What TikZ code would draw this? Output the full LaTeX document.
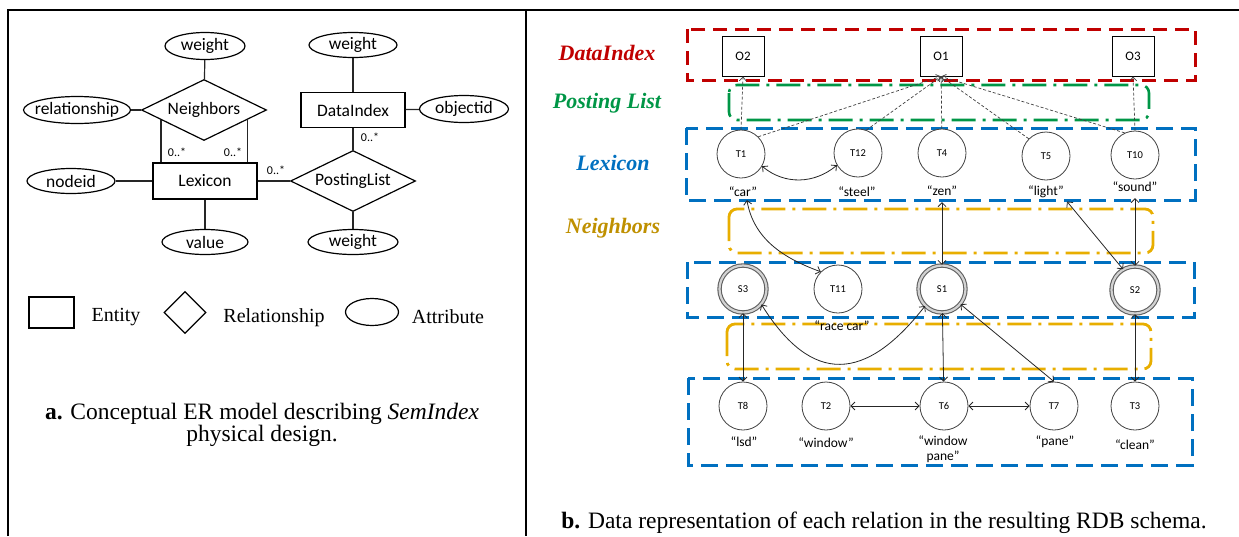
\documentclass[tikz,border=0pt]{standalone}
\usepackage{fontspec}
\setmainfont{Liberation Serif}
\newfontfamily\calibfont{Carlito}
\usetikzlibrary{shapes.geometric,arrows.meta,calc}

\definecolor{diRed}{RGB}{192,0,0}
\definecolor{plGreen}{RGB}{0,150,70}
\definecolor{lxBlue}{RGB}{0,112,192}
\definecolor{nbGold}{RGB}{232,174,0}
\definecolor{nbLabel}{RGB}{191,144,0}

\tikzset{
  erline/.style={line width=1.2pt, black!85},
  attr/.style={ellipse, draw, line width=1.2pt, minimum height=27pt, inner ysep=0pt, inner xsep=-6pt,
    font=\calibfont\fontsize{17.5}{20}\selectfont},
  ent/.style={rectangle, draw, line width=1.2pt, minimum width=104pt, minimum height=36pt,
    inner sep=0pt, font=\calibfont\fontsize{17.5}{20}\selectfont},
  rel/.style={diamond, draw, aspect=2, line width=1.2pt, minimum width=125pt, minimum height=61pt,
    inner sep=0pt, font=\calibfont\fontsize{17.5}{20}\selectfont},
  card/.style={inner sep=0pt, font=\calibfont\fontsize{12}{14}\selectfont},
  legendtxt/.style={inner sep=0pt, anchor=base, font=\fontsize{20}{23}\selectfont},
  caption/.style={inner sep=0pt, align=center, font=\fontsize{23.5}{22}\selectfont},
  sidelabel/.style={inner sep=0pt, font=\bfseries\itshape\fontsize{22}{26}\selectfont},
  obox/.style={rectangle, draw, fill=white, line width=0.9pt, minimum width=42pt, minimum height=40pt,
    inner sep=0pt, font=\calibfont\fontsize{13}{15}\selectfont},
  term/.style={circle, draw=black!75, fill=white, line width=0.8pt, minimum size=48pt,
    inner sep=0pt, font=\calibfont\fontsize{10.5}{12}\selectfont},
  sense/.style={circle, draw=gray!75!black, double=gray!35, double distance=2.2pt, line width=1.1pt,
    fill=white, minimum size=47pt, inner sep=0pt, font=\calibfont\fontsize{10.5}{12}\selectfont},
  word/.style={inner sep=1pt, align=center, font=\calibfont\fontsize{13.5}{15}\selectfont},
  conn/.style={line width=0.8pt, draw=black!85,
    {Straight Barb[length=4pt,width=8pt]}-{Straight Barb[length=4pt,width=8pt]}},
  post/.style={line width=0.7pt, draw=black!75, dash pattern=on 3pt off 2pt,
    -{Straight Barb[length=4pt,width=7pt]}},
  redbox/.style={draw=diRed, line width=3pt, dash pattern=on 14pt off 8pt},
  bluebox/.style={draw=lxBlue, line width=3pt, dash pattern=on 17pt off 8pt},
  greenbox/.style={draw=plGreen, line width=2.6pt, rounded corners=8pt,
    dash pattern=on 24pt off 7pt on 3pt off 7pt},
  goldbox/.style={draw=nbGold, line width=2.8pt, rounded corners=8pt,
    dash pattern=on 24pt off 7pt on 3pt off 7pt},
}

\begin{document}
\begin{tikzpicture}[x=1pt, y=-1pt]
\useasboundingbox (0,0) rectangle (1239,536);

% panel frame
\draw[line width=2pt] (8,536) -- (8,10) -- (1239,10);
\draw[line width=2pt] (526,10) -- (526,536);

% ---------------- ER model ----------------
\node[attr, minimum width=80pt] (w1) at (205,46) {weight};
\node[rel] (nb) at (204,110) {Neighbors};
\node[attr, minimum width=107pt] (relat) at (77,110) {relationship};
\node[ent] (lex) at (205,181) {Lexicon};
\node[attr, minimum width=88pt, minimum height=25pt] (nid) at (71,181) {nodeid};
\node[attr, minimum width=86pt, minimum height=25pt] (val) at (205,242) {value};
\node[rel] (pl) at (353,181) {PostingList};
\node[ent, minimum height=35pt] (di) at (353,110) {DataIndex};
\node[attr, minimum width=88pt, minimum height=25pt] (w2) at (353,45) {weight};
\node[attr, minimum width=89pt] (oid) at (464,109) {objectid};
\node[attr, minimum width=90pt, minimum height=25pt] (w3) at (353,242) {weight};

\draw[erline] (w1) -- (nb);
\draw[erline] (relat) -- (nb);
\draw[erline] (nid) -- (lex);
\draw[erline] (lex) -- (val);
\draw[erline] (lex) -- (pl);
\draw[erline] (w2) -- (di);
\draw[erline] (di) -- (oid);
\draw[erline] (di) -- (pl);
\draw[erline] (pl) -- (w3);

\coordinate (nbl) at ($(nb.west)!0.32!(nb.south)$);
\coordinate (nbr) at ($(nb.east)!0.31!(nb.south)$);
\draw[erline] (nbl) -- (nbl |- lex.north);
\draw[erline] (nbr) -- (nbr |- lex.north);

\node[card] (c1) at (177,152) {0..*};
\node[card] (c2) at (233,152) {0..*};
\node[card] (c3) at (276,170) {0..*};
\node[card] (c4) at (370,137) {0..*};

% legend
\node[draw, line width=1.2pt, minimum width=45pt, minimum height=31pt, inner sep=0pt] (lgE) at (51.5,312.5) {};
\node[legendtxt] (lgEt) at (116,321) {Entity};
\node[diamond, draw, line width=1.2pt, minimum width=42pt, minimum height=42pt, inner sep=0pt] (lgR) at (185,312.5) {};
\node[legendtxt] (lgRt) at (274,322) {Relationship};
\node[ellipse, draw, line width=1.2pt, minimum width=53pt, minimum height=27pt, inner sep=0pt] (lgA) at (372,312) {};
\node[legendtxt] (lgAt) at (448,323) {Attribute};

\node[caption] (capA) at (262,425) {\textbf{a.} Conceptual ER model describing \textit{SemIndex}\\physical design.};

% ---------------- data representation ----------------
\draw[redbox] (687,29) rectangle (1195,80);
\draw[greenbox] (729,85) rectangle (1149,120);
\draw[bluebox] (686,128) rectangle (1195,200);
\draw[goldbox] (729,209) rectangle (1153,253);
\draw[bluebox] (687,262) rectangle (1194,317);
\draw[goldbox] (727,324) rectangle (1151,369);
\draw[bluebox] (688,378) rectangle (1192,465);

\node[sidelabel, diRed] (lDI) at (607,53) {DataIndex};
\node[sidelabel, plGreen] (lPL) at (607,103) {Posting List};
\node[sidelabel, lxBlue] (lLX) at (613,163) {Lexicon};
\node[sidelabel, nbLabel] (lNB) at (613,228) {Neighbors};

% objects
\node[obox] (o2) at (743,56) {O2};
\node[obox] (o1) at (941,56) {O1};
\node[obox] (o3) at (1133,56) {O3};

% lexicon terms
\node[term] (t1) at (741,154) {T1};
\node[term] (t12) at (858,153) {T12};
\node[term] (t4) at (942,153) {T4};
\node[term] (t5) at (1046,156) {T5};
\node[term] (t10) at (1135,155) {T10};
\node[word] (car) at (743,192) {“car”};
\node[word] (steel) at (857,192) {“steel”};
\node[word] (zen) at (942,191) {“zen”};
\node[word] (light) at (1046,192) {“light”};
\node[word] (sound) at (1135,187) {“sound”};

% senses and neighbours
\node[sense] (s3) at (743,289) {S3};
\node[term] (t11) at (838,289) {T11};
\node[sense] (s1) at (942,289) {S1};
\node[sense] (s2) at (1135,290) {S2};
\node[word] (race) at (842,326) {“race car”};

\node[term] (t8) at (743,406) {T8};
\node[term] (t2) at (826,406) {T2};
\node[term] (t6) at (944,406) {T6};
\node[term] (t7) at (1054,406) {T7};
\node[term] (t3) at (1135,406) {T3};
\node[word] (lsd) at (744,442) {“lsd”};
\node[word] (window) at (826,443) {“window”};
\node[word] (wpane) at (943,449) {“window\\pane”};
\node[word] (pane) at (1055,442) {“pane”};
\node[word] (clean) at (1135,445) {“clean”};

% posting list links
\draw[post] (t1.north) -- (o2.south);
\draw[post] (t1.45) -- (o1.south);
\draw[post] (t12.70) -- (o1.south);
\draw[post] (t4) -- (o1);
\draw[post] (t5.135) -- (o1.south);
\draw[post] (t10.115) -- (o1.south);
\draw[post] (t10.north) -- (o3.south);

% neighbour links
\draw[conn] (t1.-30) to[out=-40, in=-140] (t12.-150);
\draw[conn, shorten <=2pt] (car.-60) to[out=-80, in=160] (t11.135);
\draw[conn, shorten <=5pt] (zen.south) -- (s1.north);
\draw[conn, shorten <=3pt] (light.south east) -- (s2.120);
\draw[conn, shorten <=5pt] (sound.south) -- (s2.north);
\draw[conn] (s3) -- (t8);
\draw[conn] (s3.-40) to[out=-58, in=-128, looseness=1.5] (s1.-135);
\draw[conn] (s1) -- (t6);
\draw[conn] (s1) -- (t7.north);
\draw[conn] (s2) -- (t3);
\draw[conn] (t2) -- (t6);
\draw[conn] (t6) -- (t7);

\node[caption, anchor=base] (capB) at (884,528) {\textbf{b.} Data representation of each relation in the resulting RDB schema.};
\end{tikzpicture}
\end{document}
